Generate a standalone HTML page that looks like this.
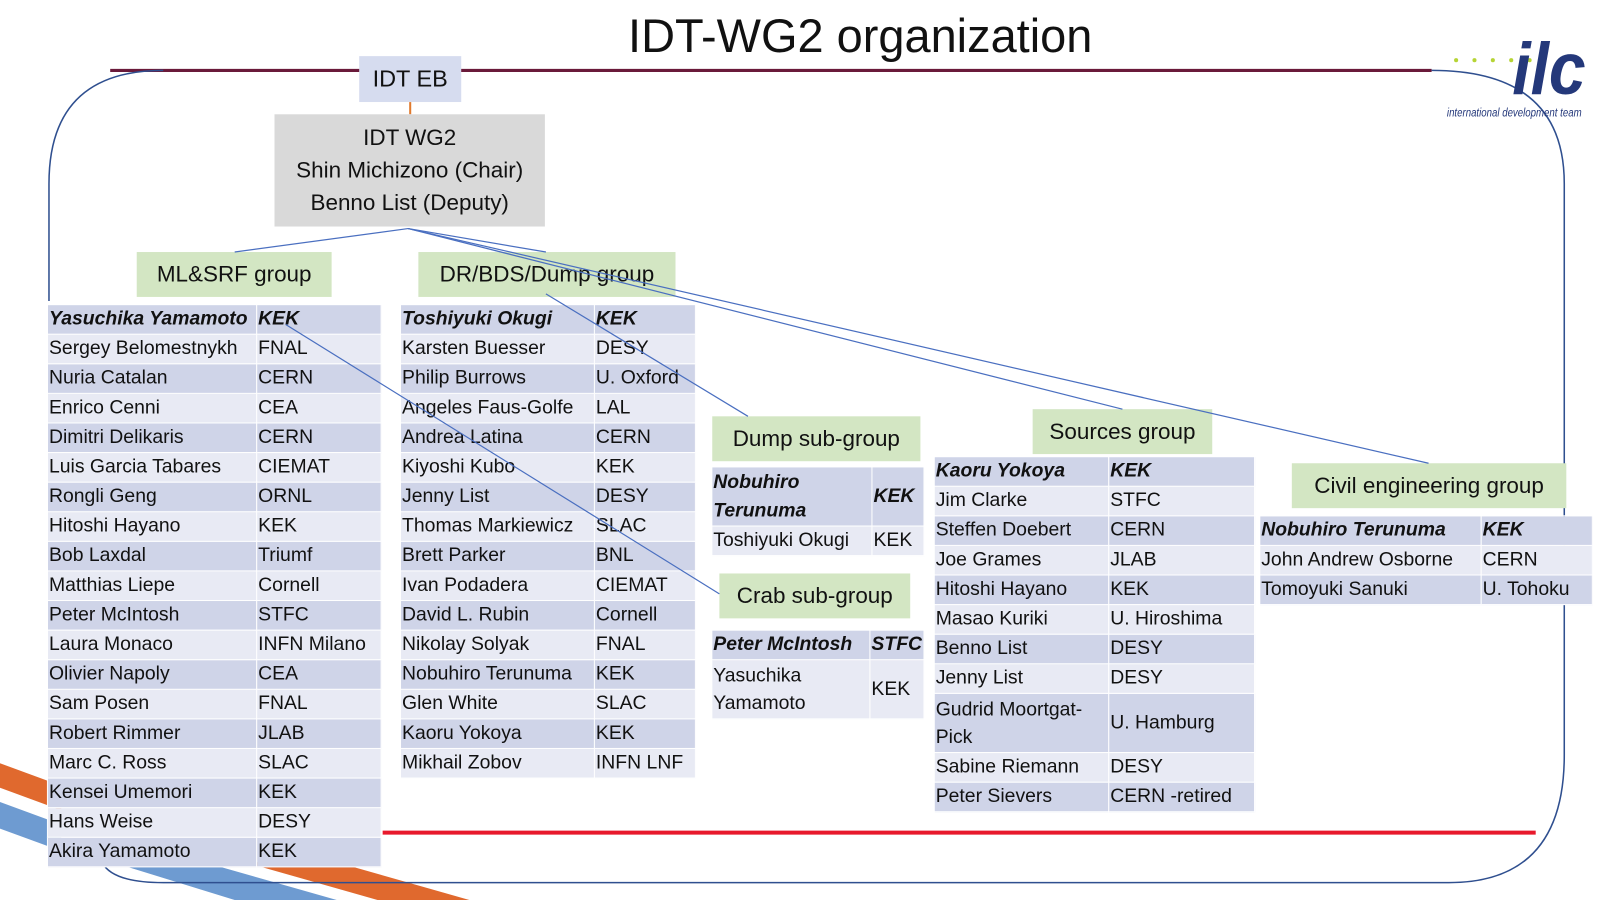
<!DOCTYPE html>
<html><head><meta charset="utf-8"><style>
body{margin:0;background:#fff;width:1600px;height:900px;overflow:hidden}
#w{position:absolute;left:0;top:0;width:1568px;height:882px;transform:scale(1.0204);transform-origin:0 0;font-family:"Liberation Sans",sans-serif;color:#111}
.b{position:absolute;display:flex;align-items:center;justify-content:center;text-align:center}
.g{background:#d3e6c3;font-size:22px}
table{position:absolute;border-collapse:collapse;font-size:19px}
td{padding:0 0 0 1px;height:28px;border:1px solid #fff;white-space:nowrap;line-height:24px}
tr:nth-child(odd) td{background:#cfd4e8}
tr:nth-child(even) td{background:#e8eaf4}
tr:first-child td{font-weight:bold;font-style:italic}
</style></head><body><div id="w">
<svg width="1568" height="882" style="position:absolute;left:0;top:0">
<polygon points="0,748 0,772 60,794 60,770" fill="#e0692e"/>
<polygon points="0,786 0,812 60,834 60,808" fill="#6e9bd1"/>
<polygon points="110,845 200,845 330,882 230,882" fill="#6e9bd1"/>
<polygon points="240,845 330,845 460,882 370,882" fill="#e0692e"/>
<line x1="108" y1="69" x2="1403" y2="69" stroke="#6a1a3a" stroke-width="3"/>
<path d="M48,295 L48,180 Q48,69 160,69 M1403,69 Q1533,69 1533,180 L1533,740 Q1533,865 1420,865 L160,865 Q110,865 100,845" fill="none" stroke="#2f4f8f" stroke-width="1.5"/>
<line x1="375" y1="816" x2="1505" y2="816" stroke="#e8192c" stroke-width="4"/>
<line x1="402" y1="100" x2="402" y2="112" stroke="#e07a2e" stroke-width="2"/>
<g fill="#b6d435"><circle cx="1427" cy="59" r="2"/><circle cx="1445" cy="59" r="2"/><circle cx="1463" cy="59" r="2"/><circle cx="1481" cy="59" r="2"/><circle cx="1499" cy="59" r="2"/></g>
<text x="1482" y="92" font-family="Liberation Sans" font-weight="bold" font-style="italic" font-size="72" fill="#24387a" textLength="72" lengthAdjust="spacingAndGlyphs">ilc</text>
<text x="1418" y="114" font-family="Liberation Sans" font-style="italic" font-size="12" fill="#24387a" textLength="132" lengthAdjust="spacingAndGlyphs">international development team</text>
</svg>
<div class="b" style="left:500px;top:5px;width:686px;height:60px;font-size:46px">IDT-WG2 organization</div>
<div class="b" style="left:352px;top:55px;width:100px;height:45px;background:#d6dcef;font-size:23px">IDT EB</div>
<div class="b" style="left:269px;top:112px;width:265px;height:110px;background:#d9d9d9;font-size:22px;line-height:32px">IDT WG2<br>Shin Michizono (Chair)<br>Benno List (Deputy)</div>
<div class="b g" style="left:134px;top:247px;width:191px;height:44px">ML&amp;SRF group</div>
<div class="b g" style="left:410px;top:247px;width:252px;height:44px">DR/BDS/Dump group</div>
<div class="b g" style="left:698px;top:408px;width:204px;height:44px">Dump sub-group</div>
<div class="b g" style="left:705px;top:562px;width:187px;height:44px">Crab sub-group</div>
<div class="b g" style="left:1012px;top:401px;width:176px;height:44px">Sources group</div>
<div class="b g" style="left:1266px;top:454px;width:269px;height:44px">Civil engineering group</div>

<table style="left:46px;top:298px;width:328px"><col style="width:205px"><col>
<tr><td>Yasuchika Yamamoto</td><td>KEK</td></tr>
<tr><td>Sergey Belomestnykh</td><td>FNAL</td></tr>
<tr><td>Nuria Catalan</td><td>CERN</td></tr>
<tr><td>Enrico Cenni</td><td>CEA</td></tr>
<tr><td>Dimitri Delikaris</td><td>CERN</td></tr>
<tr><td>Luis Garcia Tabares</td><td>CIEMAT</td></tr>
<tr><td>Rongli Geng</td><td>ORNL</td></tr>
<tr><td>Hitoshi Hayano</td><td>KEK</td></tr>
<tr><td>Bob Laxdal</td><td>Triumf</td></tr>
<tr><td>Matthias Liepe</td><td>Cornell</td></tr>
<tr><td>Peter McIntosh</td><td>STFC</td></tr>
<tr><td>Laura Monaco</td><td>INFN Milano</td></tr>
<tr><td>Olivier Napoly</td><td>CEA</td></tr>
<tr><td>Sam Posen</td><td>FNAL</td></tr>
<tr><td>Robert Rimmer</td><td>JLAB</td></tr>
<tr><td>Marc C. Ross</td><td>SLAC</td></tr>
<tr><td>Kensei Umemori</td><td>KEK</td></tr>
<tr><td>Hans Weise</td><td>DESY</td></tr>
<tr><td>Akira Yamamoto</td><td>KEK</td></tr>
</table>

<table style="left:392px;top:298px;width:290px"><col style="width:190px"><col>
<tr><td>Toshiyuki Okugi</td><td>KEK</td></tr>
<tr><td>Karsten Buesser</td><td>DESY</td></tr>
<tr><td>Philip Burrows</td><td>U. Oxford</td></tr>
<tr><td>Angeles Faus-Golfe</td><td>LAL</td></tr>
<tr><td>Andrea Latina</td><td>CERN</td></tr>
<tr><td>Kiyoshi Kubo</td><td>KEK</td></tr>
<tr><td>Jenny List</td><td>DESY</td></tr>
<tr><td>Thomas Markiewicz</td><td>SLAC</td></tr>
<tr><td>Brett Parker</td><td>BNL</td></tr>
<tr><td>Ivan Podadera</td><td>CIEMAT</td></tr>
<tr><td>David L. Rubin</td><td>Cornell</td></tr>
<tr><td>Nikolay Solyak</td><td>FNAL</td></tr>
<tr><td>Nobuhiro Terunuma</td><td>KEK</td></tr>
<tr><td>Glen White</td><td>SLAC</td></tr>
<tr><td>Kaoru Yokoya</td><td>KEK</td></tr>
<tr><td>Mikhail Zobov</td><td>INFN LNF</td></tr>
</table>

<table style="left:697px;top:457px;width:209px"><col style="width:157px"><col>
<tr><td style="height:57px;line-height:28px">Nobuhiro<br>Terunuma</td><td>KEK</td></tr>
<tr><td>Toshiyuki Okugi</td><td>KEK</td></tr>
</table>

<table style="left:697px;top:617px;width:209px"><col style="width:155px"><col>
<tr><td>Peter McIntosh</td><td>STFC</td></tr>
<tr><td style="height:57px;line-height:27px">Yasuchika<br>Yamamoto</td><td>KEK</td></tr>
</table>

<table style="left:915px;top:447px;width:315px"><col style="width:171px"><col>
<tr><td>Kaoru Yokoya</td><td>KEK</td></tr>
<tr><td>Jim Clarke</td><td>STFC</td></tr>
<tr><td>Steffen Doebert</td><td>CERN</td></tr>
<tr><td>Joe Grames</td><td>JLAB</td></tr>
<tr><td>Hitoshi Hayano</td><td>KEK</td></tr>
<tr><td>Masao Kuriki</td><td>U. Hiroshima</td></tr>
<tr><td>Benno List</td><td>DESY</td></tr>
<tr><td>Jenny List</td><td>DESY</td></tr>
<tr><td style="height:57px;line-height:27px">Gudrid Moortgat-<br>Pick</td><td>U. Hamburg</td></tr>
<tr><td>Sabine Riemann</td><td>DESY</td></tr>
<tr><td>Peter Sievers</td><td>CERN -retired</td></tr>
</table>

<table style="left:1234px;top:505px;width:327px"><col style="width:217px"><col>
<tr><td>Nobuhiro Terunuma</td><td>KEK</td></tr>
<tr><td>John Andrew Osborne</td><td>CERN</td></tr>
<tr><td>Tomoyuki Sanuki</td><td>U. Tohoku</td></tr>
</table>

<svg width="1568" height="882" style="position:absolute;left:0;top:0;pointer-events:none">
<g stroke="#4a6fc0" stroke-width="1.2" fill="none">
<line x1="400" y1="224" x2="230" y2="247"/>
<line x1="400" y1="224" x2="535" y2="247"/>
<line x1="400" y1="224" x2="1100" y2="401"/>
<line x1="400" y1="224" x2="1400" y2="454"/>
<line x1="535" y1="288" x2="733" y2="408"/>
<line x1="280" y1="318" x2="705" y2="582"/>
</g>
</svg>
</div></body></html>
